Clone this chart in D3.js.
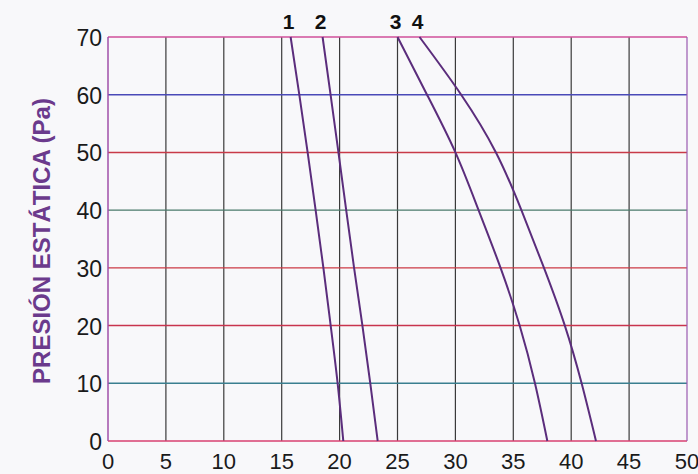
<!DOCTYPE html>
<html>
<head>
<meta charset="utf-8">
<script src="https://cdn.jsdelivr.net/npm/d3@7"></script>
<style>
  body { margin: 0; background: #f8f8fa; }
  svg { display: block; font-family: "Liberation Sans", Arial, sans-serif; }
</style>
</head>
<body>
<svg id="chart" width="698" height="474"></svg>
<script>
// caudal on x (0..50), presion estatica on y (0..70 Pa)
var xTicks = [0, 5, 10, 15, 20, 25, 30, 35, 40, 45, 50];
var yTicks = [0, 10, 20, 30, 40, 50, 60, 70];

var pressures = [70, 60, 50, 40, 30, 20, 10, 0];
var curve1 = [15.77, 16.52, 17.24, 17.93, 18.6, 19.23, 19.83, 20.32];
var curve2 = [18.53, 19.22, 19.9, 20.57, 21.25, 21.97, 22.65, 23.29];
var curve3 = [25.0, 27.55, 30.0, 32.0, 33.9, 35.55, 36.87, 37.94];
var curve4 = [26.9, 30.5, 33.5, 35.7, 37.65, 39.45, 40.9, 42.14];
var curveNames = ["1", "2", "3", "4"];

// colour of each horizontal grid line (scanned print, rgb fringes)
var hLineColors = {10: "#3a7f8f", 20: "#c8344e", 30: "#cc3a44", 40: "#4a7a6a", 50: "#c83a48", 60: "#4a4ab8"};

var svg = d3.select("#chart");
// note: "top" is taken by window.top, so use plot* names
var plotL = 108, plotR = 687, plotT = 37, plotB = 441;

var x = d3.scaleLinear().domain([0, 50]).range([plotL, plotR]);
var y = d3.scaleLinear().domain([0, 70]).range([plotB, plotT]);

// vertical grid
svg.append("g").selectAll("line")
    .data(xTicks.slice(1, -1))
    .enter().append("line")
    .attr("x1", function(d) { return x(d); })
    .attr("x2", function(d) { return x(d); })
    .attr("y1", plotT).attr("y2", plotB)
    .attr("stroke", "#3a3a3a").attr("stroke-width", 1.2);

// horizontal grid
svg.append("g").selectAll("line")
    .data(yTicks.slice(1, -1))
    .enter().append("line")
    .attr("x1", plotL).attr("x2", plotR)
    .attr("y1", function(d) { return y(d); })
    .attr("y2", function(d) { return y(d); })
    .attr("stroke", function(d) { return hLineColors[d]; })
    .attr("stroke-width", 1.4);

// frame
svg.append("line").attr("x1", plotL).attr("x2", plotR).attr("y1", plotT).attr("y2", plotT)
    .attr("stroke", "#d0509a").attr("stroke-width", 1.5);
svg.append("line").attr("x1", plotL).attr("x2", plotR).attr("y1", plotB).attr("y2", plotB)
    .attr("stroke", "#d84070").attr("stroke-width", 1.5);
svg.append("line").attr("x1", plotL).attr("x2", plotL).attr("y1", plotT).attr("y2", plotB)
    .attr("stroke", "#a050a8").attr("stroke-width", 1.5);
svg.append("line").attr("x1", plotR).attr("x2", plotR).attr("y1", plotT).attr("y2", plotB)
    .attr("stroke", "#9a5ab0").attr("stroke-width", 1.2);

// curves - natural spline, pressure steps are even so this is smooth in y
var line = d3.line()
    .x(function(d) { return x(d[0]); })
    .y(function(d) { return y(d[1]); })
    .curve(d3.curveNatural);

[curve1, curve2, curve3, curve4].forEach(function(c, i) {
    var pts = c.map(function(v, j) { return [v, pressures[j]]; });
    svg.append("path")
        .attr("d", line(pts))
        .attr("fill", "none")
        .attr("stroke", "#5b2d7c")
        .attr("stroke-width", 2);

    svg.append("text")
        .attr("x", x(c[0]) - 2)
        .attr("y", 29)
        .attr("text-anchor", "middle")
        .attr("font-size", 21)
        .attr("font-weight", "bold")
        .attr("fill", "#111")
        .text(curveNames[i]);
});

// y tick labels
svg.append("g").selectAll("text")
    .data(yTicks)
    .enter().append("text")
    .attr("x", 102)
    .attr("y", function(d) { return y(d) + 9; })
    .attr("text-anchor", "end")
    .attr("font-size", 23)
    .attr("fill", "#1a1a1a")
    .text(function(d) { return d; });

// x tick labels
svg.append("g").selectAll("text")
    .data(xTicks)
    .enter().append("text")
    .attr("x", function(d) { return x(d); })
    .attr("y", 469)
    .attr("text-anchor", "middle")
    .attr("font-size", 22)
    .attr("fill", "#1a1a1a")
    .text(function(d) { return d; });

// y axis title
svg.append("text")
    .attr("transform", "translate(50,241) rotate(-90)")
    .attr("text-anchor", "middle")
    .attr("font-size", 24)
    .attr("font-weight", "bold")
    .attr("fill", "#6b3a8c")
    .text("PRESIÓN ESTÁTICA (Pa)");
</script>
</body>
</html>
